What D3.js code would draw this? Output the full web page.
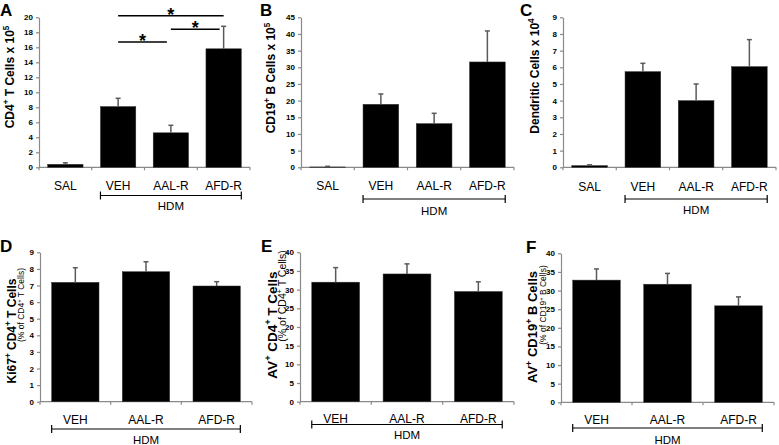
<!DOCTYPE html>
<html><head><meta charset="utf-8">
<script src="https://cdn.jsdelivr.net/npm/d3@7"></script>
<style>body{margin:0;background:#fff} svg{display:block;font-family:"Liberation Sans",Arial,Helvetica,sans-serif}</style>
</head><body><svg id="c" width="779" height="445"></svg>
<script>
// ---------- data ----------
const topCategories = ["SAL", "VEH", "AAL-R", "AFD-R"];
const bottomCategories = ["VEH", "AAL-R", "AFD-R"];
const hdmCategories = ["VEH", "AAL-R", "AFD-R"];
const groupLabel = "HDM";

const cd4Mean = [0.4, 8.1, 4.6, 15.8];
const cd4Err  = [0.2, 1.1, 1.0, 3.0];
const cd19Mean = [0.1, 18.9, 13.1, 31.6];
const cd19Err  = [0.2, 3.1, 3.1, 9.3];
const dcMean = [0.1, 5.74, 4.0, 6.04];
const dcErr  = [0.05, 0.5, 1.0, 1.62];
const ki67Mean = [7.19, 7.83, 6.97];
const ki67Err  = [0.88, 0.6, 0.26];
const avCd4Mean = [32.0, 34.2, 29.5];
const avCd4Err  = [3.9, 2.7, 2.6];
const avCd19Mean = [32.8, 31.7, 25.9];
const avCd19Err  = [3.0, 2.9, 2.4];

const ticksA = [0, 2, 4, 6, 8, 10, 12, 14, 16, 18, 20];
const ticksB = [0, 5, 10, 15, 20, 25, 30, 35, 40, 45];
const ticksC = [0, 1, 2, 3, 4, 5, 6, 7, 8, 9];
const ticksD = [0, 1, 2, 3, 4, 5, 6, 7, 8, 9];
const ticksE = [0, 5, 10, 15, 20, 25, 30, 35, 40];
const ticksF = [0, 5, 10, 15, 20, 25, 30, 35, 40];

// significance comparisons in panel A
const sigFrom  = ["VEH", "AAL-R", "VEH"];
const sigTo    = ["AFD-R", "AFD-R", "AAL-R"];
const sigLevel = [20.2, 18.4, 16.7];
const sigMark  = ["*", "*", "*"];

// ---------- layout ----------
const svg = d3.select("#c");
const AXIS = "#8a8a8a";

function rich(sel, parts, size) {
  let shifted = false;
  const supShift = size * 0.38;
  parts.forEach(p => {
    if (typeof p === "string") {
      const t = sel.append("tspan").text(p);
      if (shifted) { t.attr("dy", supShift); shifted = false; }
    } else {
      sel.append("tspan").text(p.sup).attr("font-size", size * 0.68).attr("dy", -supShift);
      shifted = true;
    }
  });
}

const panels = [
  { label: "A", lx: 0, ly: 16, cats: topCategories, mean: cd4Mean, err: cd4Err, ticks: ticksA,
    x0: 39, x1: 250, y0: 17.3, y1: 167.3,
    title: ["CD4", {sup: "+"}, " T Cells x 10", {sup: "5"}], tx: 14, ty: 77, tsize: 12,
    labelY: 189.5, bracketY: 195.5, hdmY: 209.5, sig: true },
  { label: "B", lx: 260, ly: 16, cats: topCategories, mean: cd19Mean, err: cd19Err, ticks: ticksB,
    x0: 301, x1: 514, y0: 17.3, y1: 167.3,
    title: ["CD19", {sup: "+"}, " B Cells x 10", {sup: "5"}], tx: 275, ty: 78, tsize: 12,
    labelY: 190, bracketY: 199, hdmY: 215 },
  { label: "C", lx: 520, ly: 16, cats: topCategories, mean: dcMean, err: dcErr, ticks: ticksC,
    x0: 563, x1: 776, y0: 17.3, y1: 167.3,
    title: ["Dendritic Cells x 10", {sup: "4"}], tx: 539, ty: 76, tsize: 12,
    labelY: 191, bracketY: 199, hdmY: 214 },
  { label: "D", lx: 0, ly: 252, cats: bottomCategories, mean: ki67Mean, err: ki67Err, ticks: ticksD,
    x0: 40, x1: 252, y0: 252.3, y1: 401.7,
    title: ["Ki67", {sup: "+"}, " CD4", {sup: "+"}, " T Cells"], tx: 16, ty: 331, tsize: 12,
    sub: ["(% of CD4", {sup: "+"}, " T Cells)"], sx: 24, sy: 305, ssize: 8.5,
    labelY: 424, bracketY: 429, hdmY: 443.5 },
  { label: "E", lx: 261, ly: 252, cats: bottomCategories, mean: avCd4Mean, err: avCd4Err, ticks: ticksE,
    x0: 300, x1: 514, y0: 252.3, y1: 401.7,
    title: ["AV", {sup: "+"}, " CD4", {sup: "+"}, " T Cells"], tx: 276.5, ty: 325, tsize: 13.5,
    sub: ["(% of CD4", {sup: "+"}, " T Cells)"], sx: 286, sy: 296, ssize: 10.5,
    labelY: 422.5, bracketY: 424.5, hdmY: 439 },
  { label: "F", lx: 526, ly: 253, cats: bottomCategories, mean: avCd19Mean, err: avCd19Err, ticks: ticksF,
    x0: 561, x1: 774, y0: 253.3, y1: 402.3,
    title: ["AV", {sup: "+"}, " CD19", {sup: "+"}, " B Cells"], tx: 537, ty: 327, tsize: 13,
    sub: ["(% of CD19", {sup: "+"}, " B Cells)"], sx: 546, sy: 305, ssize: 8.5,
    labelY: 424, bracketY: 428, hdmY: 443.5 }
];

panels.forEach(p => {
  const g = svg.append("g");
  const x = d3.scaleBand().domain(p.cats).range([p.x0, p.x1]).paddingInner(0.33).paddingOuter(0.165);
  const y = d3.scaleLinear().domain([0, d3.max(p.ticks)]).range([p.y1, p.y0]);

  g.append("text").attr("x", p.lx).attr("y", p.ly).attr("font-size", 17).attr("font-weight", "bold").text(p.label);

  const ya = g.append("g").attr("transform", `translate(${p.x0},0)`)
    .call(d3.axisLeft(y).tickValues(p.ticks).tickSize(3).tickSizeOuter(0).tickPadding(3));
  ya.selectAll("path,line").attr("stroke", AXIS).attr("stroke-width", 1.2);
  ya.selectAll("text").attr("font-size", 8).attr("font-weight", "bold").attr("fill", "#000")
    .attr("font-family", '"Liberation Sans",Arial,sans-serif');

  g.append("line").attr("x1", p.x0).attr("x2", p.x1).attr("y1", p.y1).attr("y2", p.y1)
    .attr("stroke", AXIS).attr("stroke-width", 1.2);
  const bounds = d3.range(p.cats.length + 1).map(i => p.x0 + i * x.step());
  g.selectAll(".bt").data(bounds).join("line")
    .attr("x1", d => d).attr("x2", d => d).attr("y1", p.y1).attr("y2", p.y1 + 3)
    .attr("stroke", AXIS).attr("stroke-width", 1.2);

  g.selectAll(".bar").data(p.cats).join("rect")
    .attr("x", d => x(d)).attr("width", x.bandwidth())
    .attr("y", (d, i) => y(p.mean[i])).attr("height", (d, i) => y(0) - y(p.mean[i]))
    .attr("fill", "#000").attr("stroke", "#333").attr("stroke-width", 0.5);

  p.cats.forEach((c, i) => {
    const cx = x(c) + x.bandwidth() / 2;
    g.append("line").attr("x1", cx).attr("x2", cx).attr("y1", y(p.mean[i])).attr("y2", y(p.mean[i] + p.err[i]))
      .attr("stroke", "#5a5a5a").attr("stroke-width", 1.5);
    g.append("line").attr("x1", cx - 2.5).attr("x2", cx + 2.5).attr("y1", y(p.mean[i] + p.err[i])).attr("y2", y(p.mean[i] + p.err[i]))
      .attr("stroke", "#5a5a5a").attr("stroke-width", 1.5);
  });

  g.selectAll(".cl").data(p.cats).join("text")
    .attr("x", d => x(d) + x.bandwidth() / 2).attr("y", p.labelY)
    .attr("text-anchor", "middle").attr("font-size", 12).text(d => d);

  const bx1 = x(hdmCategories[0]);
  const bx2 = x(hdmCategories[hdmCategories.length - 1]) + x.bandwidth();
  g.append("line").attr("x1", bx1).attr("x2", bx2).attr("y1", p.bracketY).attr("y2", p.bracketY)
    .attr("stroke", "#000").attr("stroke-width", 1.2);
  [bx1, bx2].forEach(bx => g.append("line").attr("x1", bx).attr("x2", bx)
    .attr("y1", p.bracketY - 4).attr("y2", p.bracketY + 4).attr("stroke", "#000").attr("stroke-width", 1.2));
  g.append("text").attr("x", (bx1 + bx2) / 2).attr("y", p.hdmY).attr("text-anchor", "middle")
    .attr("font-size", 11.5).text(groupLabel);

  const t = g.append("text").attr("transform", `translate(${p.tx},${p.ty}) rotate(-90)`)
    .attr("text-anchor", "middle").attr("font-size", p.tsize).attr("font-weight", "bold");
  rich(t, p.title, p.tsize);
  if (p.sub) {
    const s = g.append("text").attr("transform", `translate(${p.sx},${p.sy}) rotate(-90)`)
      .attr("text-anchor", "middle").attr("font-size", p.ssize);
    rich(s, p.sub, p.ssize);
  }

  if (p.sig) {
    sigFrom.forEach((f, i) => {
      const xa = x(f) + x.bandwidth() / 2;
      const xb = x(sigTo[i]) + x.bandwidth() / 2 - (i > 0 ? 4 : 0);
      const ly = y(sigLevel[i]);
      g.append("line").attr("x1", xa).attr("x2", xb).attr("y1", ly).attr("y2", ly)
        .attr("stroke", "#000").attr("stroke-width", 1.5);
      g.append("text").attr("x", (xa + xb) / 2).attr("y", ly + 5).attr("text-anchor", "middle")
        .attr("font-size", 18).attr("font-weight", "bold").text(sigMark[i]);
    });
  }
});
</script></body></html>
